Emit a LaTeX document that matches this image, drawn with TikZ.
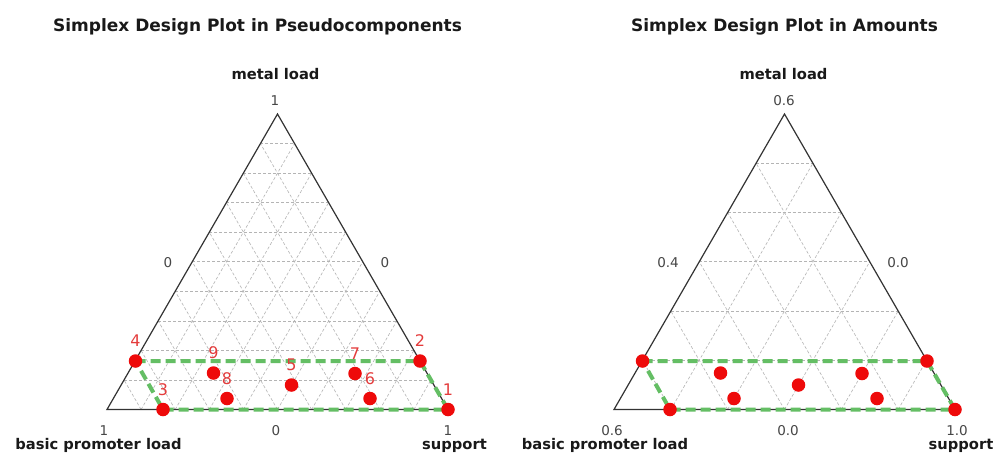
\documentclass[tikz,border=0pt]{standalone}
\usepackage{fontspec}
\setmainfont{DejaVu Sans}
\usetikzlibrary{calc}
\definecolor{dotred}{RGB}{238,10,10}
\definecolor{labred}{RGB}{228,60,60}
\definecolor{dgreen}{RGB}{100,190,100}
\definecolor{gridgray}{RGB}{180,180,180}
\definecolor{numgray}{RGB}{70,70,70}
\tikzset{
 titletext/.style={font=\bfseries\fontsize{17}{19}\selectfont, text=black!90, anchor=base, inner sep=0},
 axlab/.style={font=\bfseries\fontsize{14.7}{16}\selectfont, text=black!90, anchor=base, inner sep=0},
 numlab/.style={font=\fontsize{13.5}{15}\selectfont, text=numgray, anchor=base, inner sep=0},
 dot/.style={circle, fill=dotred, inner sep=0, minimum size=13.5pt},
 ptlab/.style={font=\fontsize{16}{18}\selectfont, text=labred, inner sep=0},
 gridline/.style={gridgray, line width=0.6pt, dash pattern=on 3pt off 2pt},
 frameline/.style={black!80, line width=1.2pt, line join=miter},
 region/.style={dgreen, line width=4pt, dash pattern=on 10pt off 5pt},
}
\begin{document}
\begin{tikzpicture}[x=1pt,y=-1pt]
\fill[white] (0,0) rectangle (1001,459);
\useasboundingbox (0,0) rectangle (1001,459);

% ---------------- left plot ----------------
\coordinate (LA) at (277.5,114);
\coordinate (LB) at (107,409.5);
\coordinate (LC) at (448,409.5);
\foreach \i in {1,...,9}{
  \pgfmathsetmacro\f{\i/10}
  \draw[gridline] ($(LB)!\f!(LA)$) -- ($(LC)!\f!(LA)$);
  \draw[gridline] ($(LB)!\f!(LC)$) -- ($(LA)!\f!(LC)$);
  \draw[gridline] ($(LC)!\f!(LB)$) -- ($(LA)!\f!(LB)$);
}
\draw[frameline] (LA) -- (LB) -- (LC) -- cycle;

\coordinate (L1) at (448,409.5);
\coordinate (L2) at (420,361);
\coordinate (L3) at (163,409.5);
\coordinate (L4) at (135.5,361);
\coordinate (L5) at (291.5,385);
\coordinate (L6) at (370,398.5);
\coordinate (L7) at (355,373.5);
\coordinate (L8) at (227,398.5);
\coordinate (L9) at (213.5,373);
\draw[region] (L4) -- (L2) -- (L1) -- (L3) -- cycle;
\foreach \n in {1,...,9}{ \node[dot] (LD\n) at (L\n) {}; }
\foreach \n in {1,...,9}{ \node[ptlab] (LL\n) at ([yshift=20pt]L\n) {\n}; }

\node[titletext] (LT) at (257.5,31) {Simplex Design Plot in Pseudocomponents};
\node[axlab] (LTop) at (275.5,79) {metal load};
\node[numlab] (LTn) at (275,105) {1};
\node[numlab] (LSl) at (168,267) {0};
\node[numlab] (LSr) at (385,267) {0};
\node[numlab] (LBl) at (104,435) {1};
\node[numlab] (LBm) at (276,435) {0};
\node[numlab] (LBr) at (448,435) {1};
\node[axlab] (LBlab) at (98.5,449) {basic promoter load};
\node[axlab] (LSup) at (454.5,449) {support};

% ---------------- right plot ----------------
\coordinate (RA) at (784.5,114);
\coordinate (RB) at (614,409.5);
\coordinate (RC) at (955,409.5);
\foreach \i in {1,...,5}{
  \pgfmathsetmacro\f{\i/6}
  \draw[gridline] ($(RB)!\f!(RA)$) -- ($(RC)!\f!(RA)$);
  \draw[gridline] ($(RB)!\f!(RC)$) -- ($(RA)!\f!(RC)$);
  \draw[gridline] ($(RC)!\f!(RB)$) -- ($(RA)!\f!(RB)$);
}
\draw[frameline] (RA) -- (RB) -- (RC) -- cycle;

\coordinate (R1) at (955,409.5);
\coordinate (R2) at (927,361);
\coordinate (R3) at (670,409.5);
\coordinate (R4) at (642.5,361);
\coordinate (R5) at (798.5,385);
\coordinate (R6) at (877,398.5);
\coordinate (R7) at (862,373.5);
\coordinate (R8) at (734,398.5);
\coordinate (R9) at (720.5,373);
\draw[region] (R4) -- (R2) -- (R1) -- (R3) -- cycle;
\foreach \n in {1,...,9}{ \node[dot] (RD\n) at (R\n) {}; }

\node[titletext] (RT) at (784.5,31) {Simplex Design Plot in Amounts};
\node[axlab] (RTop) at (783.5,79) {metal load};
\node[numlab] (RTn) at (784,105) {0.6};
\node[numlab] (RSl) at (668,267) {0.4};
\node[numlab] (RSr) at (898,267) {0.0};
\node[numlab] (RBl) at (612,435) {0.6};
\node[numlab] (RBm) at (788,435) {0.0};
\node[numlab] (RBr) at (957,435) {1.0};
\node[axlab] (RBlab) at (605,449) {basic promoter load};
\node[axlab] (RSup) at (961,449) {support};
\end{tikzpicture}
\end{document}
